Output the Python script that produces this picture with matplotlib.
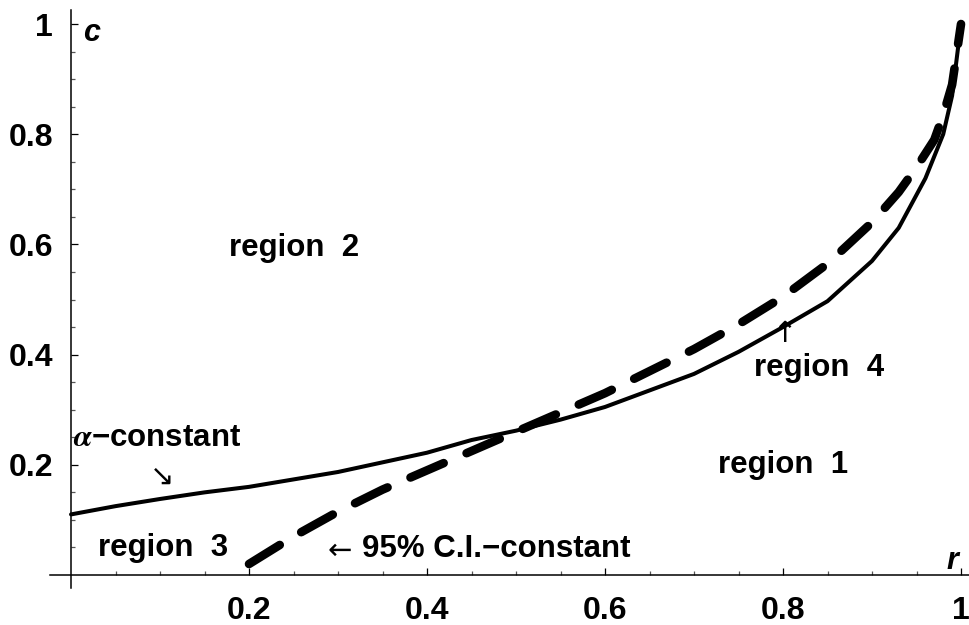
import matplotlib
matplotlib.use("Agg")
import matplotlib.pyplot as plt
import numpy as np

plt.rcParams['font.family'] = ['Liberation Sans', 'DejaVu Sans']
plt.rcParams['font.weight'] = 'bold'
plt.rcParams['mathtext.fontset'] = 'stix'

# alpha-constant curve (solid)
r_alpha = [0.0, 0.05, 0.1, 0.15, 0.2, 0.3, 0.4, 0.45, 0.5, 0.55, 0.6, 0.65,
           0.7, 0.75, 0.8, 0.85, 0.9, 0.93, 0.96, 0.98, 0.99, 1.0]
c_alpha = [0.11, 0.125, 0.138, 0.15, 0.16, 0.187, 0.222, 0.245, 0.262, 0.282, 0.305, 0.335,
           0.365, 0.405, 0.45, 0.497, 0.57, 0.63, 0.72, 0.8, 0.87, 1.0]

# 95% C.I.-constant curve (dashed)
r_ci = [0.2, 0.25, 0.3, 0.35, 0.4, 0.45, 0.5, 0.55, 0.6, 0.65, 0.7, 0.75,
        0.8, 0.85, 0.88, 0.9, 0.93, 0.95, 0.97, 0.98, 0.99, 1.0]
c_ci = [0.02, 0.07, 0.115, 0.155, 0.19, 0.225, 0.26, 0.295, 0.33, 0.37, 0.41, 0.455,
        0.505, 0.565, 0.61, 0.64, 0.695, 0.74, 0.79, 0.835, 0.89, 1.0]

major_ticks = [0.2, 0.4, 0.6, 0.8, 1.0]
major_labels = ["0.2", "0.4", "0.6", "0.8", "1"]

fig = plt.figure(figsize=(9.7, 6.25), dpi=100)
ax = fig.add_axes([0, 0, 1, 1])
ax.set_xlim(-0.0798, 1.0101)
ax.set_ylim(-0.0907, 1.0436)

ax.plot(r_alpha, c_alpha, color='black', lw=2.9, solid_capstyle='round', zorder=3)
ax.plot(r_ci, c_ci, color='black', lw=6.2, linestyle=(0, (4.2, 2.9)),
        dash_capstyle='round', zorder=3)

for s in ['top', 'right']:
    ax.spines[s].set_visible(False)
ax.spines['left'].set_position(('data', 0))
ax.spines['bottom'].set_position(('data', 0))
ax.spines['left'].set_bounds(-0.0236, 1.025)
ax.spines['bottom'].set_bounds(-0.0236, 1.0101)
for s in ['left', 'bottom']:
    ax.spines[s].set_linewidth(1.1)

minor = [v for v in np.round(np.arange(0.05, 1.001, 0.05), 2) if v not in major_ticks]
ax.set_xticks(major_ticks)
ax.set_xticklabels(major_labels)
ax.set_yticks(major_ticks)
ax.set_yticklabels(major_labels)
ax.set_xticks(minor, minor=True)
ax.set_yticks(minor, minor=True)
ax.tick_params(which='major', direction='in', length=5, width=0.9, labelsize=23)
ax.tick_params(which='minor', direction='in', length=3, width=0.9, color='#555555')
ax.tick_params(axis='x', which='major', pad=15)
ax.tick_params(axis='y', which='major', pad=13)
for lab in ax.get_xticklabels() + ax.get_yticklabels():
    lab.set_fontweight('bold')

fs = 22.5
arrow_font = ['DejaVu Sans']
ax.text(0.2506, 0.593, "region  2", fontsize=fs, ha='center', va='center')
ax.text(0.841, 0.376, "region  4", fontsize=fs, ha='center', va='center')
ax.text(0.80, 0.20, "region  1", fontsize=fs, ha='center', va='center')
ax.text(0.103, 0.049, "region  3", fontsize=fs, ha='center', va='center')
ax.text(0.002, 0.249, r"$\alpha$" + "\u2212constant", fontsize=fs, ha='left', va='center')
ax.text(0.102, 0.178, "\u2198", fontsize=21, ha='center', va='center', fontweight='normal',
        family=arrow_font)
ax.text(0.288, 0.043, "\u2190", fontsize=21, ha='left', va='center', fontweight='normal',
        family=arrow_font)
ax.text(0.327, 0.047, "95% C.I.\u2212constant", fontsize=fs, ha='left', va='center')
ax.text(0.801, 0.437, "\u2191", fontsize=21, ha='center', va='center', fontweight='normal',
        family=arrow_font)
ax.text(0.0236, 0.984, "c", fontsize=22, ha='center', va='center', style='italic')
ax.text(0.99, 0.025, "r", fontsize=22, ha='center', va='center', style='italic')

fig.savefig("out.png", dpi=100)
